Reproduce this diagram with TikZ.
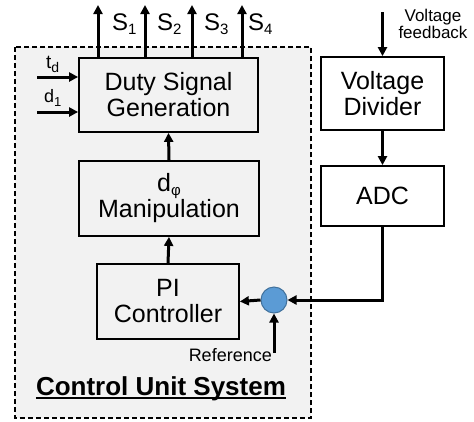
\documentclass[tikz,border=0pt]{standalone}
\usepackage{fontspec}
\setmainfont{Liberation Sans}
\usetikzlibrary{arrows.meta}

\definecolor{panelgray}{HTML}{F2F2F2}
\definecolor{sumblue}{HTML}{5B9BD5}
\definecolor{sumedge}{HTML}{41719C}

% small lowered index, text font
\newcommand{\lowidx}[2][15]{\raisebox{-4pt}{\fontsize{#1}{#1}\selectfont #2}}

\tikzset{
  block/.style={draw, line width=1.8pt, fill=white, align=center, inner sep=0pt,
    font=\fontsize{25}{26}\selectfont},
  sig/.style={line width=3pt, -{Triangle[length=9pt,width=9pt]}},
  note/.style={inner sep=0pt, font=\fontsize{17}{15}\selectfont},
}

\begin{document}
\begin{tikzpicture}[x=1pt, y=-1pt]
  \useasboundingbox (0,0) rectangle (474,421);

  % Control unit frame
  \draw[line width=1.6pt, fill=panelgray, dash pattern=on 5pt off 3pt] (15,47) rectangle (311,418);

  % Blocks
  \node[block, fill=panelgray, minimum width=179pt, minimum height=74pt] (duty) at (168.5,95) {Duty Signal\\Generation};
  \node[block, fill=panelgray, minimum width=180pt, minimum height=75pt] (manip) at (169,198.5) {d\lowidx{φ}\\Manipulation};
  \node[block, fill=panelgray, minimum width=142pt, minimum height=75pt] (pi) at (168,301.5) {PI\\Controller};
  \node[block, minimum width=123pt, minimum height=73pt] (divider) at (382.5,93.5) {Voltage\\Divider};
  \node[block, minimum width=123pt, minimum height=60pt] (adc) at (382.5,196) {ADC};
  \node[circle, draw=sumedge, fill=sumblue, line width=1pt, minimum size=26pt, inner sep=0pt] (sum) at (274,300) {};

  % Switch signals
  \foreach \x/\lx/\i in {98/112/1,145/157/2,192/204/3,242/248/4} {
    \coordinate (s\i) at (\x,5);
    \draw[sig] (duty.north -| s\i) -- (s\i);
    \node[anchor=base west, inner sep=0pt, font=\fontsize{24}{24}\selectfont] (slbl\i) at (\lx,30) {S\lowidx{\i}};
  }

  % Inputs of the duty block
  \coordinate (tdin) at (37,77);
  \coordinate (dlin) at (37,112);
  \draw[sig] (tdin) -- (tdin -| duty.west);
  \draw[sig] (dlin) -- (dlin -| duty.west);
  \node[anchor=base west, inner sep=0pt, font=\fontsize{19}{19}\selectfont] (tdlbl) at (46,68) {t\lowidx[14]{d}};
  \node[anchor=base west, inner sep=0pt, font=\fontsize{18}{18}\selectfont] (dllbl) at (44,102) {d\lowidx[13]{1}};

  % Loop
  \draw[sig] (manip.north) -- (duty.south);
  \draw[sig] (pi.north) -- (manip.south);
  \draw[sig] (sum.west) -- (pi.east);
  \draw[sig] (adc.south) |- (sum.east);
  \draw[sig] (divider.south) -- (adc.north);

  % Feedback and reference
  \coordinate (vfb) at (382.5,12);
  \draw[sig] (vfb) -- (divider.north);
  \node[note, align=center] (vfblbl) at (433,24) {Voltage\\feedback};
  \coordinate (ref) at (274,353);
  \draw[sig] (ref) -- (sum.south);
  \node[note, anchor=base east, font=\fontsize{18}{18}\selectfont] (reflbl) at (272,361) {Reference};

  % Title
  \node[anchor=base, inner sep=0pt, font=\bfseries\fontsize{26}{26}\selectfont] (cus) at (161,395) {Control Unit System};
  \draw[line width=2pt] ([yshift=-2.5pt]cus.base west) -- ([yshift=-2.5pt]cus.base east);
\end{tikzpicture}
\end{document}
